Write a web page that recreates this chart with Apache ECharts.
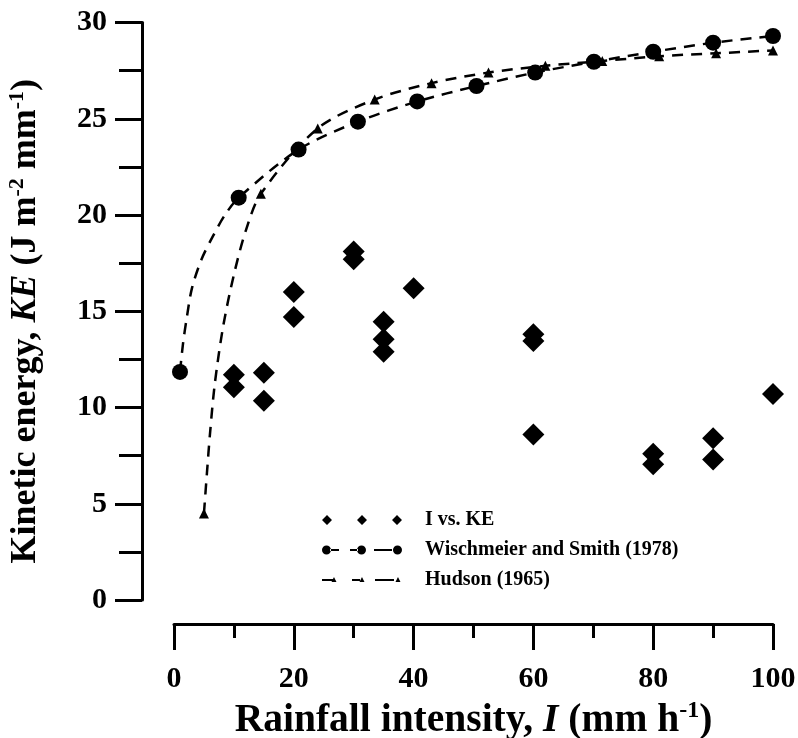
<!DOCTYPE html>
<html>
<head>
<meta charset="utf-8">
<script src="https://cdn.jsdelivr.net/npm/echarts@6/dist/echarts.min.js"></script>
<style>
html,body{margin:0;padding:0;background:#fff;}
#c{width:798px;height:738px;}
</style>
</head>
<body>
<div id="c"></div>
<script>
// Measured data: I vs. KE
const keI   = [10, 10, 15, 15, 20, 20, 30, 30, 35, 35, 35, 40, 60, 60, 60, 80, 80, 90, 90, 100];
const keVal = [11.7, 11.05, 11.8, 10.35, 16.0, 14.7, 18.1, 17.7, 14.45, 13.55, 12.9, 16.2, 13.8, 13.45, 8.6, 7.6, 7.05, 8.4, 7.3, 10.7];

// Wischmeier and Smith (1978): marker points
const wsI  = [1, 10.8, 20.8, 30.7, 40.6, 50.5, 60.3, 70.1, 80, 90, 100];
const wsKE = [11.85, 20.9, 23.4, 24.85, 25.9, 26.7, 27.4, 27.96, 28.48, 28.95, 29.3];
// points (no marker)
const wsPathI  = [1.5, 2.1, 3, 4.6, 6.5, 8.5];
const wsPathKE = [13.3, 14.6, 16.2, 17.7, 18.9, 20.0];

// Hudson (1965): marker points
const hudI  = [5, 14.5, 24, 33.5, 43, 52.5, 62, 71.5, 81, 90.5, 100];
const hudKE = [4.5, 21.1, 24.5, 26.0, 26.85, 27.4, 27.75, 28.0, 28.25, 28.4, 28.55];
// points (no marker)
const hudPathI  = [5.5, 6, 6.8, 8.2, 10, 12];
const hudPathKE = [6.6, 8.6, 11.2, 14.2, 16.9, 19.2];

const seriesNames = ['I vs. KE', 'Wischmeier and Smith (1978)', 'Hudson (1965)'];

function merged(mI, mV, pI, pV) {
  const arr = [];
  mI.forEach((x, i) => arr.push({ value: [x, mV[i]] }));
  pI.forEach((x, i) => arr.push({ value: [x, pV[i]], symbol: 'none' }));
  arr.sort((a, b) => a.value[0] - b.value[0]);
  return arr;
}

const FONT = 'Liberation Serif';

// legend icons
const iconDiamonds = 'path://M0,5L5,0L10,5L5,10Z M35,5L40,0L45,5L40,10Z M70,5L75,0L80,5L75,10Z';
const circ = (cx) => `M${cx-4.5},5A4.5,4.5 0 1,0 ${cx+4.5},5A4.5,4.5 0 1,0 ${cx-4.5},5Z`;
const iconCircles = 'path://' + circ(4.5) + ' M8,4L17,4L17,6L8,6Z M28,4L36,4L36,6L28,6Z ' + circ(39.5) +
  ' M52,4L70,4L70,6L52,6Z ' + circ(75.5) + ' M0,0L0.01,0L0.01,0.01Z M80,10L80.01,10L80.01,9.99Z';
const tri = (cx) => `M${cx-2.5},7L${cx},2L${cx+2.5},7Z`;
const iconTri = 'path://M0,4L12,4L12,6L0,6Z ' + tri(12) + ' M30,4L38,4L38,6L30,6Z ' + tri(40) +
  ' M53,4L72,4L72,6L53,6Z ' + tri(76) + ' M0,0L0.01,0L0.01,0.01Z M80,10L80.01,10L80.01,9.99Z';

const chart = echarts.init(document.getElementById('c'), null, { renderer: 'canvas' });

const axisText = { fontFamily: FONT, fontWeight: 'bold', fontSize: 30, color: '#000' };

function richName(size, lh, sup, supPad) {
  return {
    n: { fontFamily: FONT, fontWeight: 'bold', fontSize: size, color: '#000', lineHeight: lh },
    i: { fontFamily: FONT, fontWeight: 'bold', fontStyle: 'italic', fontSize: size, color: '#000', lineHeight: lh },
    s: { fontFamily: FONT, fontWeight: 'bold', fontSize: sup, color: '#000', verticalAlign: 'top', lineHeight: sup, padding: [0, 0, supPad, 0] }
  };
}

chart.setOption({
  backgroundColor: '#fff',
  animation: false,
  grid: { left: 174, right: 25, top: 22.5, bottom: 138, containLabel: false, outerBoundsMode: 'none' },
  legend: {
    orient: 'vertical',
    left: 317,
    top: 505,
    itemWidth: 80,
    itemHeight: 10,
    itemGap: 10,
    selectedMode: false,
    textStyle: { fontFamily: FONT, fontWeight: 'bold', fontSize: 20, color: '#000', padding: [0, 0, 0, 18] },
    data: [
      { name: seriesNames[0], icon: iconDiamonds },
      { name: seriesNames[1], icon: iconCircles },
      { name: seriesNames[2], icon: iconTri }
    ]
  },
  xAxis: {
    type: 'value',
    min: 0, max: 100, interval: 20,
    offset: 24,
    splitLine: { show: false },
    axisLine: { show: true, onZero: false, lineStyle: { color: '#000', width: 3 } },
    axisTick: { show: true, length: 26, lineStyle: { color: '#000', width: 3 } },
    minorTick: { show: true, splitNumber: 2, length: 14, lineStyle: { color: '#000', width: 3 } },
    axisLabel: Object.assign({ margin: 40 }, axisText),
    name: '{n|Rainfall intensity, }{i|I}{n| (mm h}{s|-1}{n|)}',
    nameLocation: 'middle',
    nameGap: 72,
    nameTextStyle: { rich: richName(39.5, 44, 24, 18) }
  },
  yAxis: {
    type: 'value',
    min: 0, max: 30, interval: 5,
    offset: 32,
    splitLine: { show: false },
    axisLine: { show: true, onZero: false, lineStyle: { color: '#000', width: 3 } },
    axisTick: { show: true, length: 27, lineStyle: { color: '#000', width: 3 } },
    minorTick: { show: true, splitNumber: 2, length: 23, lineStyle: { color: '#000', width: 3 } },
    axisLabel: Object.assign({ margin: 35 }, axisText),
    name: '{n|Kinetic energy, }{i|KE}{n| (J m}{s|-2}{n| mm}{s|-1}{n|)}',
    nameLocation: 'middle',
    nameRotate: 90,
    nameGap: 96,
    nameTextStyle: { padding: [0, 20, 0, 0], rich: richName(36, 40, 22, 16) }
  },
  series: [
    {
      name: seriesNames[0],
      type: 'scatter',
      symbol: 'diamond',
      symbolSize: [22, 22],
      itemStyle: { color: '#000', opacity: 1 },
      data: keI.map((x, i) => [x, keVal[i]]),
      z: 3
    },
    {
      name: seriesNames[1],
      type: 'line',
      smooth: 0.3,
      symbol: 'circle',
      symbolSize: 16,
      showAllSymbol: true,
      clip: false,
      itemStyle: { color: '#000' },
      lineStyle: { color: '#000', width: 2.5, type: [11, 8] },
      data: merged(wsI, wsKE, wsPathI, wsPathKE),
      z: 2
    },
    {
      name: seriesNames[2],
      type: 'line',
      smooth: 0.3,
      symbol: 'triangle',
      symbolSize: 10,
      showAllSymbol: true,
      clip: false,
      itemStyle: { color: '#000' },
      lineStyle: { color: '#000', width: 2.5, type: [11, 8] },
      data: merged(hudI, hudKE, hudPathI, hudPathKE),
      z: 2
    }
  ]
});
</script>
</body>
</html>
